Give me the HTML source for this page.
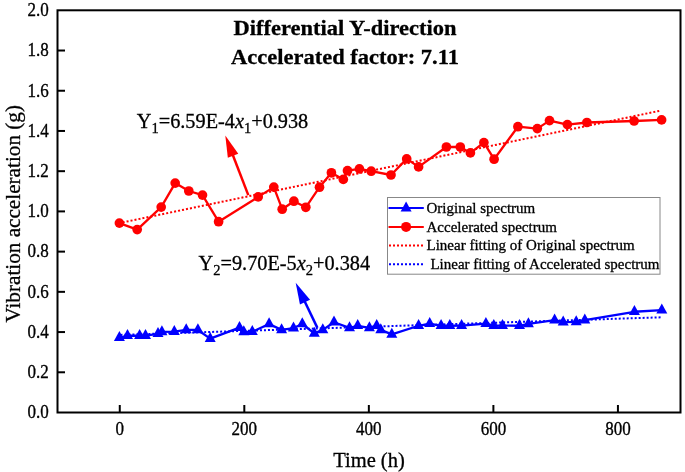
<!DOCTYPE html>
<html><head><meta charset="utf-8"><style>
html,body{margin:0;padding:0;background:#fff;}
body{width:685px;height:472px;overflow:hidden;}
svg{display:block;font-family:"Liberation Serif",serif;will-change:transform;}
text{stroke:#000;stroke-width:0.3px;}
</style></head><body>
<svg width="685" height="472" viewBox="0 0 685 472">
<rect width="685" height="472" fill="#fff"/>

<line x1="119.8" y1="223.0" x2="659.5" y2="110.85" stroke="#f00" stroke-width="2" stroke-dasharray="2.0225 2.0225" stroke-dashoffset="1.182"/>
<line x1="119.8" y1="334.9" x2="661" y2="317.3" stroke="#00f" stroke-width="2" stroke-dasharray="1.994 1.994" stroke-dashoffset="3.308"/>
<polyline fill="none" stroke="#f00" stroke-width="2.3" stroke-linejoin="round" points="119.4,223.1 137.2,229.6 161.2,207.1 175.2,183.1 188.8,191.0 202.5,195.1 218.6,221.7 258.2,196.9 273.8,187.1 282.2,209.2 293.9,201.2 305.8,207.3 319.5,187.2 331.4,172.8 343.3,179.4 347.5,170.7 359.4,168.9 371.2,171.2 391.0,175.0 406.7,158.9 418.6,166.9 446.4,147.0 460.3,147.0 470.4,152.9 483.9,142.6 494.1,159.2 517.9,126.7 537.3,128.6 549.5,120.6 567.4,124.6 586.9,122.5 634.1,121.0 661.6,119.9"/>
<polyline fill="none" stroke="#00f" stroke-width="2.3" stroke-linejoin="round" points="119.40,337.77 127.50,335.57 139.60,335.77 145.50,335.57 158.00,333.77 161.90,331.87 174.30,331.67 186.20,329.97 197.90,329.97 210.20,338.67 239.50,327.57 243.80,331.97 252.30,331.67 269.10,323.97 281.60,329.87 293.50,328.07 302.30,323.97 314.30,333.37 322.80,329.87 334.00,322.27 349.50,327.87 357.70,325.77 369.40,327.87 376.70,325.77 380.80,329.87 391.80,334.37 418.60,325.77 429.70,323.67 441.10,325.77 449.80,325.77 461.60,325.67 485.90,323.67 493.80,325.67 502.50,325.67 519.50,325.77 528.40,323.97 554.60,320.07 563.20,322.07 576.20,321.97 584.80,320.07 634.40,311.77 661.80,310.17"/>
<g fill="#f00"><circle cx="119.4" cy="223.1" r="4.85"/><circle cx="137.2" cy="229.6" r="4.85"/><circle cx="161.2" cy="207.1" r="4.85"/><circle cx="175.2" cy="183.1" r="4.85"/><circle cx="188.8" cy="191.0" r="4.85"/><circle cx="202.5" cy="195.1" r="4.85"/><circle cx="218.6" cy="221.7" r="4.85"/><circle cx="258.2" cy="196.9" r="4.85"/><circle cx="273.8" cy="187.1" r="4.85"/><circle cx="282.2" cy="209.2" r="4.85"/><circle cx="293.9" cy="201.2" r="4.85"/><circle cx="305.8" cy="207.3" r="4.85"/><circle cx="319.5" cy="187.2" r="4.85"/><circle cx="331.4" cy="172.8" r="4.85"/><circle cx="343.3" cy="179.4" r="4.85"/><circle cx="347.5" cy="170.7" r="4.85"/><circle cx="359.4" cy="168.9" r="4.85"/><circle cx="371.2" cy="171.2" r="4.85"/><circle cx="391.0" cy="175.0" r="4.85"/><circle cx="406.7" cy="158.9" r="4.85"/><circle cx="418.6" cy="166.9" r="4.85"/><circle cx="446.4" cy="147.0" r="4.85"/><circle cx="460.3" cy="147.0" r="4.85"/><circle cx="470.4" cy="152.9" r="4.85"/><circle cx="483.9" cy="142.6" r="4.85"/><circle cx="494.1" cy="159.2" r="4.85"/><circle cx="517.9" cy="126.7" r="4.85"/><circle cx="537.3" cy="128.6" r="4.85"/><circle cx="549.5" cy="120.6" r="4.85"/><circle cx="567.4" cy="124.6" r="4.85"/><circle cx="586.9" cy="122.5" r="4.85"/><circle cx="634.1" cy="121.0" r="4.85"/><circle cx="661.6" cy="119.9" r="4.85"/></g>
<g fill="#00f"><polygon points="119.40,331.10 113.90,341.10 124.90,341.10"/><polygon points="127.50,328.90 122.00,338.90 133.00,338.90"/><polygon points="139.60,329.10 134.10,339.10 145.10,339.10"/><polygon points="145.50,328.90 140.00,338.90 151.00,338.90"/><polygon points="158.00,327.10 152.50,337.10 163.50,337.10"/><polygon points="161.90,325.20 156.40,335.20 167.40,335.20"/><polygon points="174.30,325.00 168.80,335.00 179.80,335.00"/><polygon points="186.20,323.30 180.70,333.30 191.70,333.30"/><polygon points="197.90,323.30 192.40,333.30 203.40,333.30"/><polygon points="210.20,332.00 204.70,342.00 215.70,342.00"/><polygon points="239.50,320.90 234.00,330.90 245.00,330.90"/><polygon points="243.80,325.30 238.30,335.30 249.30,335.30"/><polygon points="252.30,325.00 246.80,335.00 257.80,335.00"/><polygon points="269.10,317.30 263.60,327.30 274.60,327.30"/><polygon points="281.60,323.20 276.10,333.20 287.10,333.20"/><polygon points="293.50,321.40 288.00,331.40 299.00,331.40"/><polygon points="302.30,317.30 296.80,327.30 307.80,327.30"/><polygon points="314.30,326.70 308.80,336.70 319.80,336.70"/><polygon points="322.80,323.20 317.30,333.20 328.30,333.20"/><polygon points="334.00,315.60 328.50,325.60 339.50,325.60"/><polygon points="349.50,321.20 344.00,331.20 355.00,331.20"/><polygon points="357.70,319.10 352.20,329.10 363.20,329.10"/><polygon points="369.40,321.20 363.90,331.20 374.90,331.20"/><polygon points="376.70,319.10 371.20,329.10 382.20,329.10"/><polygon points="380.80,323.20 375.30,333.20 386.30,333.20"/><polygon points="391.80,327.70 386.30,337.70 397.30,337.70"/><polygon points="418.60,319.10 413.10,329.10 424.10,329.10"/><polygon points="429.70,317.00 424.20,327.00 435.20,327.00"/><polygon points="441.10,319.10 435.60,329.10 446.60,329.10"/><polygon points="449.80,319.10 444.30,329.10 455.30,329.10"/><polygon points="461.60,319.00 456.10,329.00 467.10,329.00"/><polygon points="485.90,317.00 480.40,327.00 491.40,327.00"/><polygon points="493.80,319.00 488.30,329.00 499.30,329.00"/><polygon points="502.50,319.00 497.00,329.00 508.00,329.00"/><polygon points="519.50,319.10 514.00,329.10 525.00,329.10"/><polygon points="528.40,317.30 522.90,327.30 533.90,327.30"/><polygon points="554.60,313.40 549.10,323.40 560.10,323.40"/><polygon points="563.20,315.40 557.70,325.40 568.70,325.40"/><polygon points="576.20,315.30 570.70,325.30 581.70,325.30"/><polygon points="584.80,313.40 579.30,323.40 590.30,323.40"/><polygon points="634.40,305.10 628.90,315.10 639.90,315.10"/><polygon points="661.80,303.50 656.30,313.50 667.30,313.50"/></g>
<line x1="248.3" y1="195.1" x2="232.33" y2="153.79" stroke="#f00" stroke-width="2.5"/><polygon fill="#f00" points="225.3,135.6 238.28,153.63 227.83,157.67"/>
<line x1="317.4" y1="327.9" x2="304.14" y2="300.28" stroke="#00f" stroke-width="2.5"/><polygon fill="#00f" points="295.7,282.7 310.05,299.66 299.96,304.51"/>
<rect x="57.5" y="10.3" width="623.0" height="402.2" fill="none" stroke="#000" stroke-width="2"/>
<g stroke="#000" stroke-width="2"><line x1="57.5" y1="372.28" x2="65.0" y2="372.28"/><line x1="57.5" y1="332.06" x2="65.0" y2="332.06"/><line x1="57.5" y1="291.84" x2="65.0" y2="291.84"/><line x1="57.5" y1="251.62" x2="65.0" y2="251.62"/><line x1="57.5" y1="211.40" x2="65.0" y2="211.40"/><line x1="57.5" y1="171.18" x2="65.0" y2="171.18"/><line x1="57.5" y1="130.96" x2="65.0" y2="130.96"/><line x1="57.5" y1="90.74" x2="65.0" y2="90.74"/><line x1="57.5" y1="50.52" x2="65.0" y2="50.52"/><line x1="119.77" y1="412.5" x2="119.77" y2="405.0"/><line x1="244.31" y1="412.5" x2="244.31" y2="405.0"/><line x1="368.85" y1="412.5" x2="368.85" y2="405.0"/><line x1="493.39" y1="412.5" x2="493.39" y2="405.0"/><line x1="617.93" y1="412.5" x2="617.93" y2="405.0"/></g>
<g font-size="17" fill="#000"><text transform="translate(48.8,411.70) scale(1,1.16)" y="5.75" text-anchor="end">0.0</text><text transform="translate(48.8,371.48) scale(1,1.16)" y="5.75" text-anchor="end">0.2</text><text transform="translate(48.8,331.26) scale(1,1.16)" y="5.75" text-anchor="end">0.4</text><text transform="translate(48.8,291.04) scale(1,1.16)" y="5.75" text-anchor="end">0.6</text><text transform="translate(48.8,250.82) scale(1,1.16)" y="5.75" text-anchor="end">0.8</text><text transform="translate(48.8,210.60) scale(1,1.16)" y="5.75" text-anchor="end">1.0</text><text transform="translate(48.8,170.38) scale(1,1.16)" y="5.75" text-anchor="end">1.2</text><text transform="translate(48.8,130.16) scale(1,1.16)" y="5.75" text-anchor="end">1.4</text><text transform="translate(48.8,89.94) scale(1,1.16)" y="5.75" text-anchor="end">1.6</text><text transform="translate(48.8,49.72) scale(1,1.16)" y="5.75" text-anchor="end">1.8</text><text transform="translate(48.8,9.50) scale(1,1.16)" y="5.75" text-anchor="end">2.0</text><text transform="translate(119.77,428.25) scale(1,1.16)" y="5.75" text-anchor="middle">0</text><text transform="translate(244.31,428.25) scale(1,1.16)" y="5.75" text-anchor="middle">200</text><text transform="translate(368.85,428.25) scale(1,1.16)" y="5.75" text-anchor="middle">400</text><text transform="translate(493.39,428.25) scale(1,1.16)" y="5.75" text-anchor="middle">600</text><text transform="translate(617.93,428.25) scale(1,1.16)" y="5.75" text-anchor="middle">800</text></g>
<text x="369" y="466.5" text-anchor="middle" font-size="20.5">Time (h)</text>
<text transform="translate(19.6,213.8) rotate(-90)" text-anchor="middle" font-size="21.2">Vibration acceleration (g)</text>
<g font-weight="bold" font-size="22.5" text-anchor="middle"><text transform="translate(345,35.4) scale(1,0.94)">Differential Y-direction</text><text transform="translate(345,64) scale(1,0.94)">Accelerated factor: 7.11</text></g>
<text x="136.8" y="127.6" font-size="20.3">Y<tspan font-size="14.5" dy="5">1</tspan><tspan dy="-5">=6.59E-4</tspan><tspan font-style="italic">x</tspan><tspan font-size="14.5" dy="5">1</tspan><tspan dy="-5">+0.938</tspan></text>
<text x="198.6" y="269.8" font-size="20.3">Y<tspan font-size="14.5" dy="5">2</tspan><tspan dy="-5">=9.70E-5</tspan><tspan font-style="italic">x</tspan><tspan font-size="14.5" dy="5">2</tspan><tspan dy="-5">+0.384</tspan></text>
<rect x="387.5" y="197.5" width="272.5" height="76.7" fill="#fff" stroke="#888" stroke-width="1"/><line x1="388.5" y1="208.1" x2="423.8" y2="208.1" stroke="#00f" stroke-width="2"/><g fill="#00f"><polygon points="406.10,201.43 400.60,211.43 411.60,211.43"/></g><line x1="388.5" y1="226.9" x2="423.8" y2="226.9" stroke="#f00" stroke-width="2"/><circle cx="406.1" cy="226.9" r="5" fill="#f00"/><line x1="389" y1="245.6" x2="423.8" y2="245.6" stroke="#f00" stroke-width="2" stroke-dasharray="2 2"/><line x1="389" y1="264.3" x2="423.8" y2="264.3" stroke="#00f" stroke-width="2" stroke-dasharray="2 2"/><g font-size="15"><text x="426.5" y="213.1">Original spectrum</text><text x="426.5" y="231.7">Accelerated spectrum</text><text x="426.5" y="250.4">Linear fitting of Original spectrum</text><text x="430.4" y="269.0">Linear fitting of Accelerated spectrum</text></g>
</svg></body></html>
